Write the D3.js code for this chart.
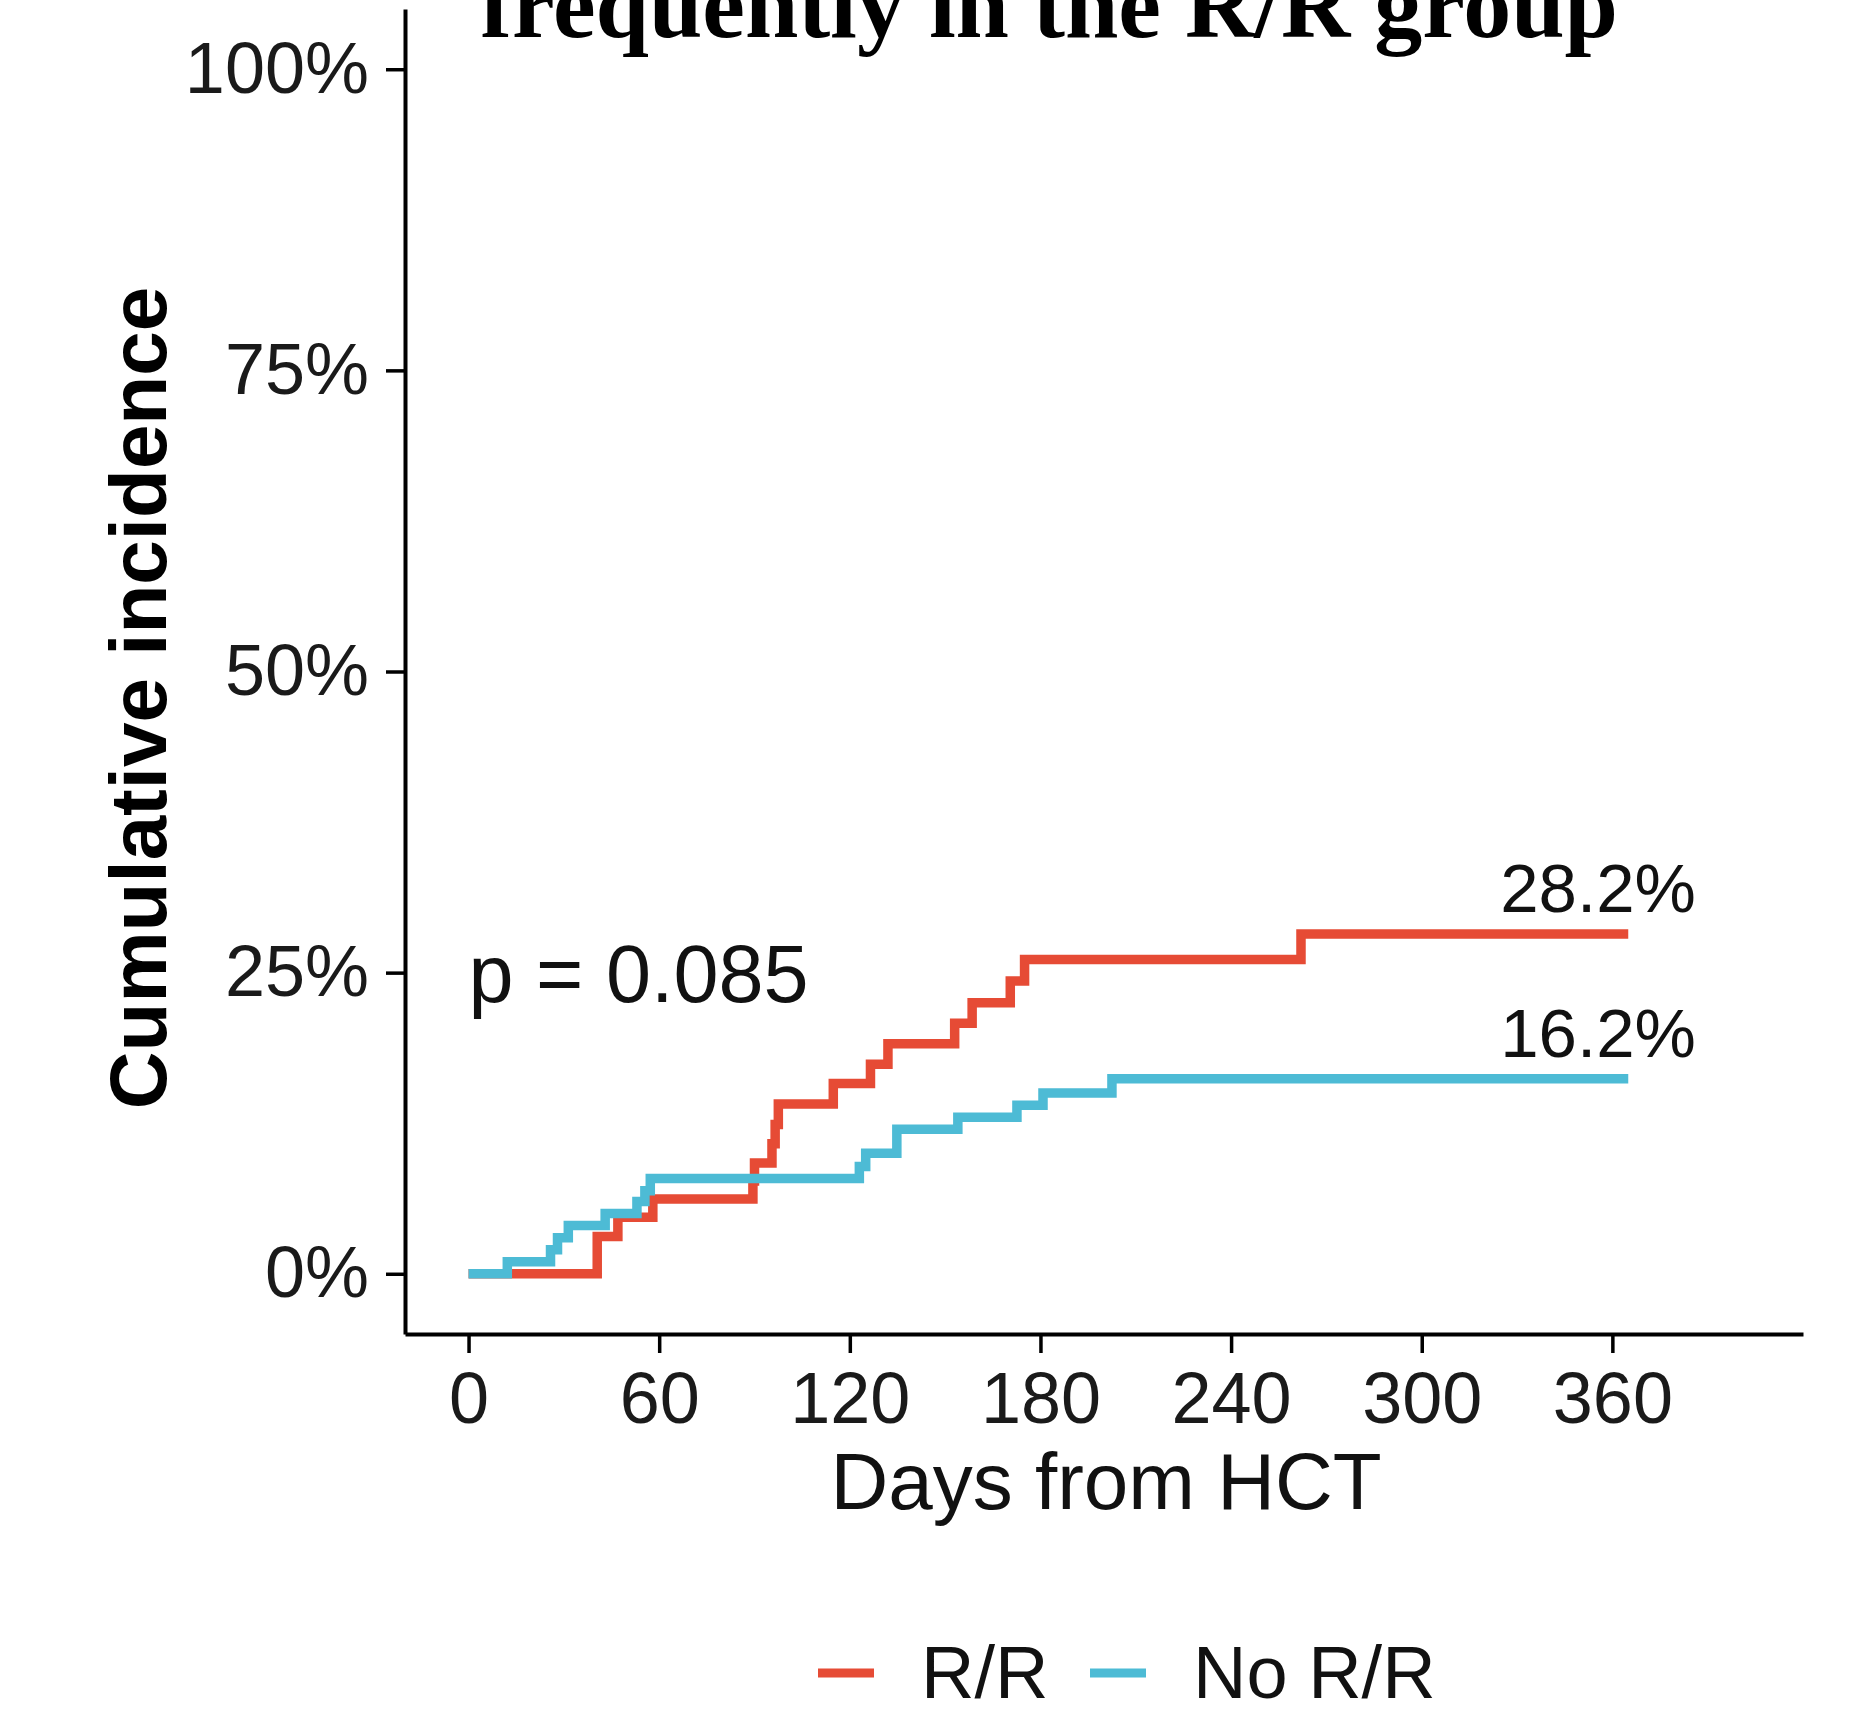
<!DOCTYPE html>
<meta charset="utf-8">
<head>
    <script src="https://cdn.jsdelivr.net/npm/d3@7"></script>
    <style>
    body { margin: 0; background: #fff; }
    .tick text { font-family: "Liberation Sans", Arial, sans-serif; fill: #1a1a1a; }
    </style>
</head>
<body>
<script>
    // cumulative incidence steps (day, percent)
    var rrDays   = [0, 40.5, 47, 58, 89.5, 90, 95.5, 96.5, 97.5, 114.8, 126.5, 132, 153, 158.5, 170.5, 175, 262, 365];
    var rrPct    = [0, 3.1, 4.7, 6.2, 7.7, 9.2, 10.8, 12.4, 14.1, 15.8, 17.4, 19.1, 20.8, 22.5, 24.3, 26.1, 28.2, 28.2];
    var noRrDays = [0, 12.2, 25.8, 28, 31.4, 43, 53, 55.5, 57.2, 123, 125, 134.8, 154, 172.6, 180.8, 202.5, 365];
    var noRrPct  = [0, 1.0, 2.0, 3.0, 4.0, 5.0, 6.0, 6.9, 7.9, 8.9, 10.0, 12.0, 13.0, 14.0, 15.0, 16.2, 16.2];

    var groups = ["R/R", "No R/R"];
    var colors = ["#E64B35", "#4DBBD5"];
    var endLabels = ["28.2%", "16.2%"];
    var xTicks = [0, 60, 120, 180, 240, 300, 360];
    var yTicks = [0, 25, 50, 75, 100];
    var pLabel = "p = 0.085";

    var width = 1864, height = 1710;
    var sans = "'Liberation Sans', Arial, Helvetica, sans-serif";

    var svg = d3.select("body")
        .append("svg")
        .attr("width", width)
        .attr("height", height);

    var x = d3.scaleLinear().domain([-20, 420]).range([405, 1803]);
    var y = d3.scaleLinear().domain([-5, 105]).range([1334, 9]);

    // title (cut off at the top in the original)
    svg.append("text")
        .attr("x", 1049)
        .attr("y", 37)
        .attr("text-anchor", "middle")
        .style("font-family", "'Liberation Serif', 'Times New Roman', serif")
        .style("font-weight", "bold")
        .style("font-size", "96px")
        .text("frequently in the R/R group");

    // axes
    var yAxis = svg.append("g")
        .attr("transform", "translate(" + x.range()[0] + ",0)")
        .call(d3.axisLeft(y).tickValues(yTicks).tickFormat(function(d) { return d + "%"; })
            .tickSize(19).tickSizeOuter(0).tickPadding(17));
    var xAxis = svg.append("g")
        .attr("transform", "translate(0," + y.range()[0] + ")")
        .call(d3.axisBottom(x).tickValues(xTicks).tickSize(19).tickSizeOuter(0).tickPadding(19));

    [yAxis, xAxis].forEach(function(g) {
        g.selectAll("path.domain").attr("stroke", "#000").attr("stroke-width", 4);
        g.selectAll(".tick line").attr("stroke", "#000").attr("stroke-width", 3.5);
        g.selectAll(".tick text").style("font-size", "72px");
    });

    // step curves
    var line = d3.line()
        .curve(d3.curveStepAfter)
        .x(function(d) { return x(d[0]); })
        .y(function(d) { return y(d[1]); });

    var series = [
        d3.zip(rrDays, rrPct),
        d3.zip(noRrDays, noRrPct)
    ];

    svg.append("g")
        .selectAll("path")
        .data(series)
        .enter().append("path")
        .attr("d", line)
        .attr("fill", "none")
        .attr("stroke", function(d, i) { return colors[i]; })
        .attr("stroke-width", 9.5);

    // end labels
    svg.append("g")
        .selectAll("text")
        .data(series)
        .enter().append("text")
        .attr("x", x(355.5))
        .attr("y", function(d) { return y(d[d.length - 1][1]) - 22; })
        .attr("text-anchor", "middle")
        .style("font-family", sans)
        .style("font-size", "69px")
        .attr("fill", "#111")
        .text(function(d, i) { return endLabels[i]; });

    svg.append("text")
        .attr("x", x(0))
        .attr("y", 1002)
        .style("font-family", sans)
        .style("font-size", "81px")
        .attr("fill", "#111")
        .text(pLabel);

    // axis titles
    svg.append("text")
        .attr("transform", "translate(166,698) rotate(-90)")
        .attr("text-anchor", "middle")
        .style("font-family", sans)
        .style("font-weight", "bold")
        .style("font-size", "80px")
        .text("Cumulative incidence");

    svg.append("text")
        .attr("x", 1106)
        .attr("y", 1509)
        .attr("text-anchor", "middle")
        .style("font-family", sans)
        .style("font-size", "80px")
        .attr("fill", "#111")
        .text("Days from HCT");

    // legend
    var legendX = [818, 1090];
    var legend = svg.append("g")
        .selectAll("g")
        .data(groups)
        .enter().append("g")
        .attr("transform", function(d, i) { return "translate(" + legendX[i] + ",1673)"; });

    legend.append("line")
        .attr("x1", 0).attr("x2", 56)
        .attr("stroke", function(d, i) { return colors[i]; })
        .attr("stroke-width", 9);

    legend.append("text")
        .attr("x", 103)
        .attr("y", 25)
        .style("font-family", sans)
        .style("font-size", "74px")
        .attr("fill", "#111")
        .text(function(d) { return d; });
</script>
</body>
</html>
